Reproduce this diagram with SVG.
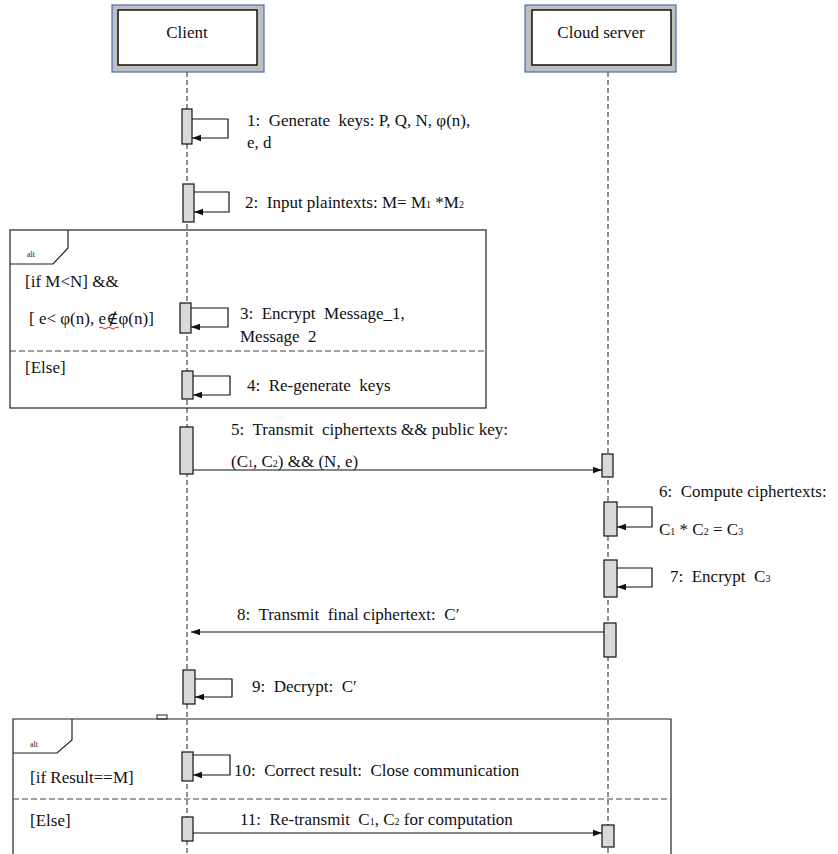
<svg xmlns="http://www.w3.org/2000/svg" width="838" height="854" viewBox="0 0 838 854" font-family="'Liberation Serif', 'DejaVu Serif', serif">
<style>
text{font-family:'Liberation Serif','DejaVu Serif',serif;font-size:17px;fill:#111;white-space:pre}
.small{font-size:8px}
.life{stroke:#555;stroke-width:1.3;stroke-dasharray:5,3;fill:none}
.act{fill:#d9d9d9;stroke:#111;stroke-width:1.2}
.msg{stroke:#111;stroke-width:1.2;fill:none}
.frame{fill:none;stroke:#222;stroke-width:1.2}
.sep{stroke:#444;stroke-width:1.2;stroke-dasharray:6,3;fill:none}
.sub{font-size:10px}
</style>
<defs>
<marker id="ah" markerWidth="10" markerHeight="8" refX="9" refY="4" orient="auto" markerUnits="userSpaceOnUse">
<path d="M0,0.8 L9,4 L0,7.2 Z" fill="#111"/>
</marker>
</defs>
<rect width="838" height="854" fill="#fff"/>

<g id="lifelines">
<line class="life" x1="187" y1="72" x2="187" y2="854"/>
<line class="life" x1="608" y1="72" x2="608" y2="854"/>
</g>

<g id="client">
<rect x="112" y="5" width="152" height="67" fill="#bfbfbf" stroke="#4a6fb5" stroke-width="1.2"/>
<rect x="118" y="10" width="139" height="55" fill="#fff" stroke="#111" stroke-width="1.5"/>
<text x="187" y="38" text-anchor="middle">Client</text>
</g>

<g id="cloud">
<rect x="525" y="5" width="151" height="67" fill="#bfbfbf" stroke="#4a6fb5" stroke-width="1.2"/>
<rect x="532" y="10" width="139" height="55" fill="#fff" stroke="#111" stroke-width="1.5"/>
<text x="601" y="38" text-anchor="middle">Cloud server</text>
</g>

<g id="alt1">
<rect class="frame" x="10" y="230" width="476" height="178"/>
<path class="frame" d="M10,264 L53,264 L68,248 L68,230"/>
<text class="small" x="27" y="257">alt</text>
<text x="25" y="287">[if M&lt;N] &amp;&amp;</text>
<text x="29" y="324">[ e&lt; φ(n), e∉φ(n)]</text>
<path d="M99,328 q2,-2 4,0 t4,0 t4,0 t4,0 t4,0" fill="none" stroke="#e02020" stroke-width="1"/>
<line class="sep" x1="10" y1="351" x2="486" y2="351"/>
<text x="25" y="373">[Else]</text>
</g>

<g id="alt2">
<rect x="157" y="715" width="10" height="4" fill="#fff" stroke="#222" stroke-width="1"/>
<path class="frame" d="M13,856 L13,719 L671,719 L671,856"/>
<path class="frame" d="M13,753 L57,753 L72,740 L72,719"/>
<text class="small" x="30" y="747">alt</text>
<text x="30" y="783">[if Result==M]</text>
<line class="sep" x1="13" y1="799" x2="671" y2="799"/>
<text x="30" y="826">[Else]</text>
</g>

<g id="activations">
<rect class="act" x="182" y="109" width="10" height="35"/>
<rect class="act" x="183" y="184" width="11" height="38"/>
<rect class="act" x="180" y="303" width="11" height="30"/>
<rect class="act" x="182" y="371" width="11" height="28"/>
<rect class="act" x="180" y="427" width="13" height="47"/>
<rect class="act" x="602" y="454" width="11" height="23"/>
<rect class="act" x="604" y="502" width="13" height="34"/>
<rect class="act" x="604" y="560" width="13" height="37"/>
<rect class="act" x="604" y="623" width="12" height="34"/>
<rect class="act" x="183" y="670" width="12" height="34"/>
<rect class="act" x="182" y="752" width="11" height="29"/>
<rect class="act" x="182" y="817" width="11" height="24"/>
<rect class="act" x="602" y="825" width="12" height="22"/>
</g>

<g id="connectors">
<path class="msg" d="M192,119 H228 V138 H192" marker-end="url(#ah)"/>
<path class="msg" d="M194,192 H229 V212 H194" marker-end="url(#ah)"/>
<path class="msg" d="M191,308 H228 V327 H191" marker-end="url(#ah)"/>
<path class="msg" d="M193,376 H230 V395 H193" marker-end="url(#ah)"/>
<line class="msg" x1="193" y1="470" x2="602" y2="470" marker-end="url(#ah)"/>
<path class="msg" d="M617,507 H652 V527 H617" marker-end="url(#ah)"/>
<path class="msg" d="M617,568 H652 V587 H617" marker-end="url(#ah)"/>
<line class="msg" x1="604" y1="632" x2="191" y2="632" marker-end="url(#ah)"/>
<path class="msg" d="M195,679 H232 V697 H195" marker-end="url(#ah)"/>
<path class="msg" d="M193,755 H230 V775 H193" marker-end="url(#ah)"/>
<line class="msg" x1="193" y1="833" x2="602" y2="833" marker-end="url(#ah)"/>
</g>

<g id="labels">
<text x="247" y="126">1:  Generate  keys: P, Q, N, φ(n),</text>
<text x="247" y="148">e, d</text>
<text x="245" y="208">2:  Input plaintexts: M= M<tspan class="sub">1</tspan> *M<tspan class="sub">2</tspan></text>
<text x="240" y="319">3:  Encrypt  Message_1,</text>
<text x="240" y="342">Message  2</text>
<text x="247" y="391">4:  Re-generate  keys</text>
<text x="231" y="435" textLength="277" lengthAdjust="spacing">5:  Transmit  ciphertexts &amp;&amp; public key:</text>
<text x="231" y="467">(C<tspan class="sub">1</tspan>, C<tspan class="sub">2</tspan>) &amp;&amp; (N, e)</text>
<text x="659" y="497">6:  Compute ciphertexts:</text>
<text x="659" y="535">C<tspan class="sub">1</tspan> * C<tspan class="sub">2</tspan> = C<tspan class="sub">3</tspan></text>
<text x="670" y="582">7:  Encrypt  C<tspan class="sub">3</tspan></text>
<text x="237" y="620">8:  Transmit  final ciphertext:  C′</text>
<text x="252" y="692">9:  Decrypt:  C′</text>
<text x="234" y="776">10:  Correct result:  Close communication</text>
<text x="240" y="825">11:  Re-transmit  C<tspan class="sub">1</tspan>, C<tspan class="sub">2</tspan> for computation</text>
</g>
</svg>
